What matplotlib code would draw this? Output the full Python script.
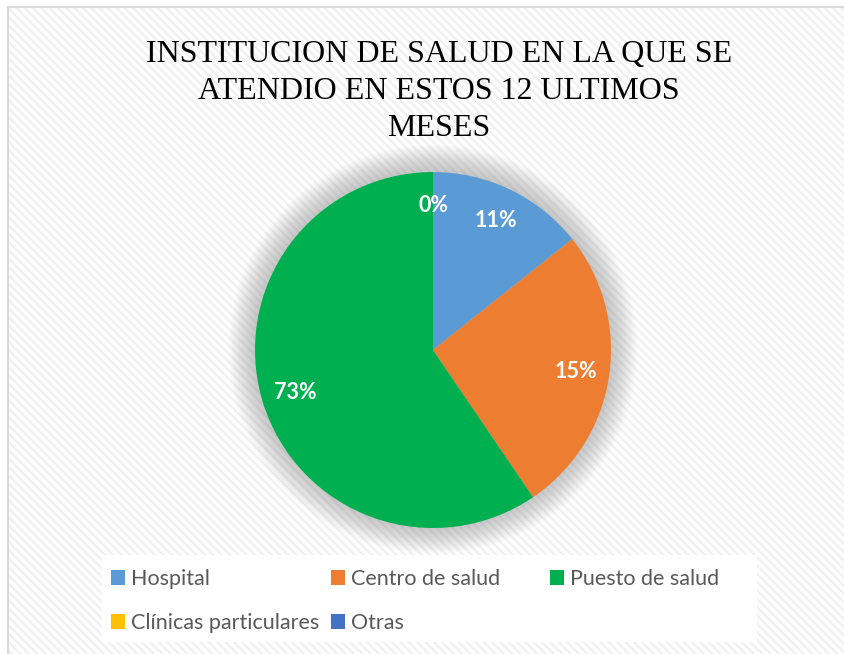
import matplotlib
matplotlib.use("Agg")
import matplotlib.pyplot as plt
from matplotlib.patches import Rectangle, Circle

# ---- data ----
categories = ["Hospital", "Centro de salud", "Puesto de salud",
              "Clínicas particulares", "Otras"]
values = [14.3, 26.2, 59.5, 0.0, 0.0]          # visual slice shares
pct_labels = ["11%", "15%", "73%", "0%", ""]    # labels printed on slices
colors = ["#5B9BD5", "#ED7D31", "#00B050", "#FFC000", "#4472C4"]
title = "INSTITUCION DE SALUD EN LA QUE SE\nATENDIO EN ESTOS 12 ULTIMOS\nMESES"

W, H = 845, 654
plt.rcParams["hatch.linewidth"] = 1.6
fig = plt.figure(figsize=(W / 100, H / 100), dpi=100, facecolor="white")

# background with diagonal stripe pattern and border
bg = Rectangle((8 / W, 0), 1 - 8 / W, 1 - 7 / H, transform=fig.transFigure,
               facecolor="white", edgecolor="#f0f0f0", hatch="\\\\\\\\",
               linewidth=0, zorder=0)
fig.patches.append(bg)
fig.add_artist(plt.Line2D([8 / W, 8 / W], [0, 1 - 7 / H], color="#d9d9d9",
                          lw=1.5, transform=fig.transFigure, zorder=1))
fig.add_artist(plt.Line2D([8 / W, 1], [1 - 7 / H, 1 - 7 / H], color="#d9d9d9",
                          lw=1.5, transform=fig.transFigure, zorder=1))
# white legend panel
fig.patches.append(Rectangle((102 / W, 1 - 642 / H), 655 / W, 87 / H,
                             transform=fig.transFigure, facecolor="white",
                             edgecolor="none", zorder=1))

# title
fig.text(439 / W, 1 - 91.5 / H, title, ha="center", va="center",
         fontfamily="Liberation Serif", fontsize=23, color="#000000",
         linespacing=1.35, zorder=3)

# pie axes
cx, cy, r = 433, 350, 178
ax = fig.add_axes([(cx - r) / W, (H - cy - r) / H, 2 * r / W, 2 * r / H])
ax.set_zorder(2)
ax.patch.set_visible(False)

# soft shadow around pie
for i in range(20):
    ax.add_patch(Circle((0, 0.005), 1.0 + 0.0075 * (i + 1), facecolor="#808080",
                        edgecolor="none", alpha=0.022, clip_on=False, zorder=0))

wedges, texts = ax.pie(values, colors=colors, startangle=90, counterclock=False,
                       labels=pct_labels, labeldistance=0.81, radius=1,
                       wedgeprops=dict(linewidth=0),
                       textprops=dict(color="white", fontweight="bold",
                                      fontfamily="Lato", fontsize=15.5))
for t in texts:
    t.set_ha("center")
    t.set_va("center")
for w in wedges:
    w.set_zorder(2)
ax.set_xlim(-1, 1)
ax.set_ylim(-1, 1)
ax.set_aspect("equal")
ax.axis("off")

# legend entries laid out in a grid
col_x = [111, 331, 550]
row_y = [579, 623]
order = [(0, 0, 0), (1, 0, 1), (2, 0, 2), (3, 1, 0), (4, 1, 1)]
for idx, row, col in order:
    leg = fig.legend([wedges[idx]], [categories[idx]], loc="center left",
                     bbox_to_anchor=(col_x[col] / W, 1 - row_y[row] / H),
                     frameon=False, borderpad=0, borderaxespad=0,
                     handlelength=0.65, handleheight=0.65, handletextpad=0.3,
                     prop=dict(family="Lato", size=15.5), labelcolor="#595959")
    leg.set_zorder(3)

fig.savefig("out.png", dpi=100, facecolor="white")
